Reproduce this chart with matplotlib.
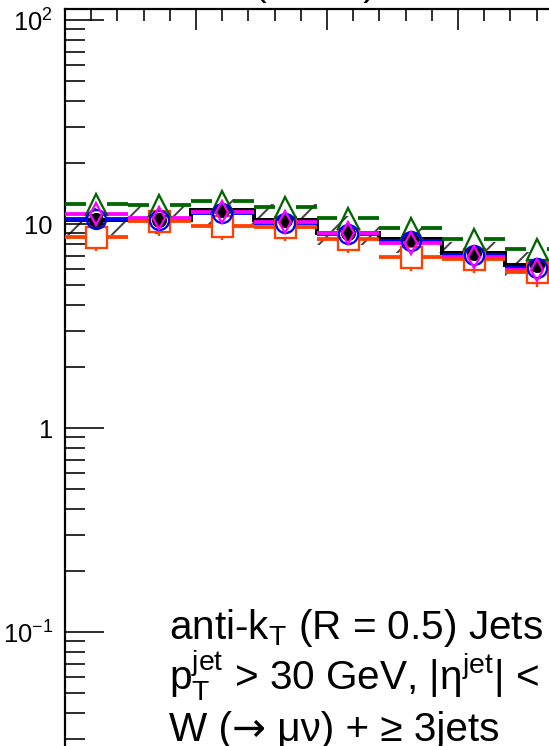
import numpy as np
import matplotlib
matplotlib.use('Agg')
import matplotlib.pyplot as plt
from matplotlib.ticker import FixedLocator, LogLocator, MultipleLocator, FuncFormatter, NullFormatter

# 픽셀 기준으로 맞추기 위한 설정
DPI = 130
W_PX, H_PX = 549, 746


def pt(px):
    return px * 72.0 / DPI


plt.rcParams['font.family'] = ['Liberation Sans', 'DejaVu Sans']
plt.rcParams['mathtext.fontset'] = 'custom'
plt.rcParams['mathtext.rm'] = 'Liberation Sans'
plt.rcParams['mathtext.it'] = 'Liberation Sans:italic'
plt.rcParams['mathtext.default'] = 'regular'
plt.rcParams['hatch.linewidth'] = pt(2.0)

# ============================================================
# 데이터
# ============================================================
bin_edges = [0.0, 0.24, 0.48, 0.72, 0.96, 1.20, 1.44, 1.68, 1.92]

black = [10.45, 10.45, 11.7, 10.45, 9.0, 8.4, 7.24, 6.3]
band_hi = [12.0, 12.6, 13.2, 12.5, 10.9, 9.7, 8.2, 7.25]
band_lo = [8.8, 8.9, 9.9, 9.3, 7.9, 7.2, 6.2, 5.55]
blue = [10.6, 10.45, 11.3, 10.1, 8.9, 8.28, 7.05, 6.1]
magenta = [11.2, 10.7, 11.5, 10.26, 9.06, 8.04, 6.9, 5.95]
green = [12.5, 12.4, 13.0, 12.1, 10.66, 9.6, 8.4, 7.5]
orange = [8.66, 10.3, 9.8, 9.7, 8.45, 6.9, 6.75, 5.8]
orange_err = 0.15

y_tick_vals = [0.1, 1, 10, 100]
y_tick_labels = ['$10^{-1}$', '1', '10', '$10^{2}$']

line1 = r'anti-k$_{T}$ (R = 0.5) Jets'
line2 = r'p$_{T}^{jet}$ > 30 GeV, |η$^{jet}$| < 2.4'
line3_parts = ['W (', '→', ' μν) + ≥ 3jets']

C_BLUE = '#0000ff'
C_MAG = '#ff00ff'
C_GREEN = '#006600'
C_ORANGE = '#ff4000'
C_HATCH = '#444444'

# ============================================================
# 그림
# ============================================================
fig = plt.figure(figsize=(W_PX / DPI, H_PX / DPI), dpi=DPI)
fig.patch.set_facecolor('white')

px_per_unit = 262.0
x_left_px, y_top_px, y_bot_px = 65.0, 8.5, 836.0
ax = fig.add_axes([x_left_px / W_PX, 1 - y_bot_px / H_PX,
                   2.4 * px_per_unit / W_PX, (y_bot_px - y_top_px) / H_PX])
ax.set_xlim(0, 2.4)
ax.set_yscale('log')
ax.set_ylim(0.01, 10 ** (2 + (20 - y_top_px) / 204.0))

edges = np.array(bin_edges)
centers = 0.5 * (edges[:-1] + edges[1:])

# 불확도 밴드 (빗금)
ax.stairs(band_hi, edges, baseline=band_lo, fill=True, facecolor='none',
          edgecolor=C_HATCH, hatch='/', linewidth=0, zorder=1)

# 검은 히스토그램
ax.stairs(black, edges, baseline=None, color='black', linewidth=pt(4.0), zorder=2)


def xbars(vals, color, gap_px, z):
    g = gap_px / px_per_unit
    vals = np.array(vals)
    ax.hlines(vals, edges[:-1], centers - g, colors=color, linewidth=pt(3.8), zorder=z)
    ax.hlines(vals, centers + g, edges[1:], colors=color, linewidth=pt(3.8), zorder=z)


xbars(blue, C_BLUE, 9.5, 3.0)
xbars(magenta, C_MAG, 6.5, 3.1)
xbars(green, C_GREEN, 10.5, 3.2)
xbars(orange, C_ORANGE, 10.5, 3.3)

orange_arr = np.array(orange)
ax.vlines(centers, orange_arr * (1 - orange_err), orange_arr * (1 + orange_err),
          colors=C_ORANGE, linewidth=pt(2.4), zorder=3.4)

# 마커
mew = pt(2.3)
ax.plot(centers, orange, 's', ms=pt(21), mfc='white', mec=C_ORANGE, mew=mew, zorder=4)
ax.plot(centers, green, '^', ms=pt(21), mfc='none', mec=C_GREEN, mew=mew, zorder=4.2)
ax.plot(centers, black, 'o', ms=pt(15), mfc='black', mec='black', mew=0, zorder=4.4)
ax.plot(centers, blue, 'o', ms=pt(19), mfc='none', mec=C_BLUE, mew=mew, zorder=4.6)
ax.plot(centers, magenta, 'd', ms=pt(15), mfc='none', mec=C_MAG, mew=mew, zorder=4.8)

# 축 스타일
for s in ax.spines.values():
    s.set_linewidth(pt(2.2))

ax.xaxis.set_major_locator(MultipleLocator(0.5))
ax.xaxis.set_minor_locator(MultipleLocator(0.1))
ax.tick_params(axis='x', which='both', direction='in', top=True, bottom=True,
               labelbottom=False, width=pt(1.6))
ax.tick_params(axis='x', which='major', length=pt(21))
ax.tick_params(axis='x', which='minor', length=pt(11.5))

ax.yaxis.set_major_locator(FixedLocator(y_tick_vals))
ax.yaxis.set_minor_locator(LogLocator(base=10, subs=np.arange(2, 10)))
ax.yaxis.set_major_formatter(FuncFormatter(lambda v, p: y_tick_labels[y_tick_vals.index(v)]
                                           if v in y_tick_vals else ''))
ax.yaxis.set_minor_formatter(NullFormatter())
ax.tick_params(axis='y', which='both', direction='in', left=True, right=True,
               width=pt(1.6), labelsize=pt(25.5), pad=pt(12))
ax.tick_params(axis='y', which='major', length=pt(39))
ax.tick_params(axis='y', which='minor', length=pt(20))

# 텍스트
fs = pt(40.5)
x0 = 169 / W_PX
for i, line in enumerate([line1, line2]):
    base_px = 639 + 51 * i
    fig.text(x0, 1 - base_px / H_PX, line, ha='left', va='baseline', fontsize=fs)

# 세 번째 줄: 화살표는 DejaVu Sans로 따로 그림
renderer = fig.canvas.get_renderer()
y3 = 1 - (639 + 51 * 2) / H_PX
xc = x0
for j, part in enumerate(line3_parts):
    fam = ['DejaVu Sans'] if j == 1 else ['Liberation Sans', 'DejaVu Sans']
    t = fig.text(xc, y3, part, ha='left', va='baseline', fontsize=fs, family=fam)
    bb = t.get_window_extent(renderer)
    xc = bb.x1 / W_PX

# 위쪽 제목 (잘려서 괄호 아래만 보임)
fig.text(315.5 / W_PX, 1 + 5 / H_PX, '(7 TeV)', ha='center', va='baseline',
         fontsize=pt(38))

fig.savefig('out.png', dpi=DPI)
